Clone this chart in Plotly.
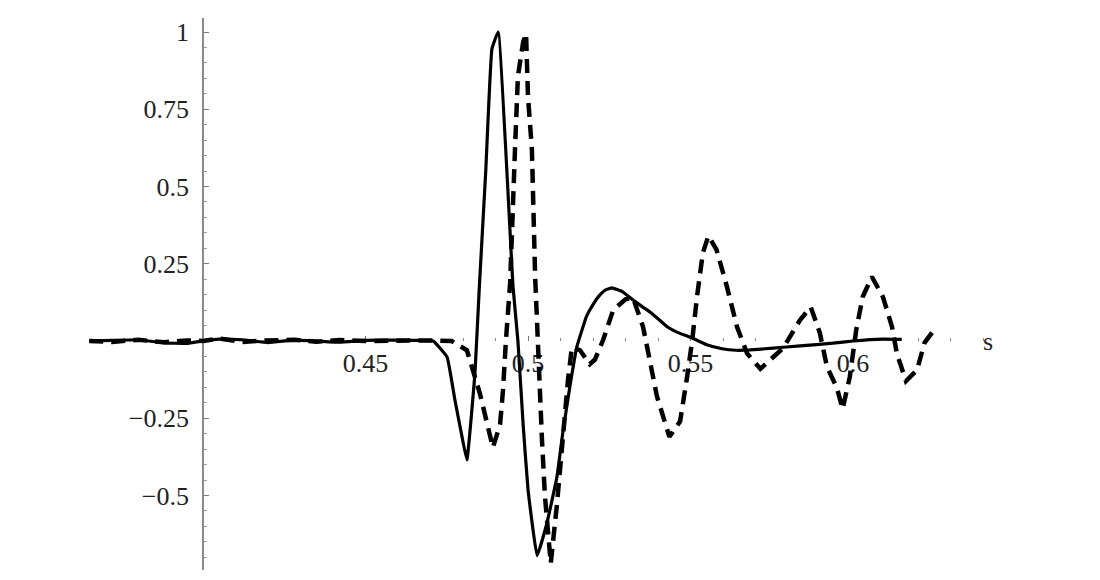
import plotly.graph_objects as go

# Solid curve (time s, amplitude)
solid_x = [0.365, 0.372, 0.380, 0.388, 0.395, 0.400, 0.405, 0.412, 0.420, 0.428, 0.435,
           0.442, 0.450, 0.458, 0.465, 0.4708, 0.4751, 0.4775, 0.4797, 0.4812, 0.4837,
           0.4850, 0.4870, 0.4889, 0.4908, 0.4954, 0.4969, 0.4985, 0.5000, 0.5028, 0.5058,
           0.5089, 0.5108, 0.5130, 0.5150, 0.5180, 0.5200, 0.5222, 0.5240, 0.5258, 0.5290,
           0.5323, 0.5350, 0.5375, 0.5400, 0.5428, 0.5460, 0.5505, 0.5550, 0.5597, 0.5640,
           0.5683, 0.5754, 0.5837, 0.5938, 0.6000, 0.6092, 0.6150]
solid_y = [0.0, 0.002, 0.004, -0.006, -0.008, 0.0, 0.006, 0.004, -0.005, 0.003, 0.0,
           -0.004, 0.002, 0.003, 0.002, 0.0, -0.052, -0.19, -0.31, -0.385, -0.10,
           0.17, 0.55, 0.945, 1.0, 0.175, 0.0, -0.27, -0.48, -0.695, -0.59,
           -0.44, -0.29, -0.14, -0.02, 0.08, 0.118, 0.150, 0.166, 0.172, 0.160,
           0.133, 0.112, 0.094, 0.072, 0.046, 0.028, 0.01, -0.012, -0.025, -0.030,
           -0.029, -0.023, -0.016, -0.007, 0.0, 0.006, 0.005]

# Dashed curve
dash_x = [0.365, 0.372, 0.380, 0.388, 0.395, 0.400, 0.405, 0.412, 0.420, 0.428, 0.435,
          0.442, 0.450, 0.458, 0.465, 0.470, 0.4765, 0.4812, 0.4852, 0.4874, 0.4892,
          0.4914, 0.4923, 0.4932, 0.4945, 0.4960, 0.4969, 0.4985, 0.4994, 0.5000, 0.5012,
          0.5022, 0.5031, 0.5043, 0.5052, 0.5070, 0.5089, 0.5108, 0.5123, 0.5135, 0.5160,
          0.5190, 0.5206, 0.5231, 0.5262, 0.5300, 0.5323, 0.5354, 0.5375, 0.5397, 0.5435,
          0.5468, 0.5489, 0.5505, 0.5520, 0.5538, 0.5555, 0.5580, 0.5612, 0.5643, 0.5674,
          0.5715, 0.5785, 0.5837, 0.5870, 0.5898, 0.5920, 0.5950, 0.5968, 0.5990, 0.6010,
          0.6030, 0.6058, 0.6092, 0.6120, 0.6135, 0.6163, 0.6197, 0.6220, 0.6245]
dash_y = [0.0, -0.003, 0.004, -0.004, 0.002, 0.0, 0.008, -0.003, 0.002, 0.004, -0.002,
          0.003, 0.0, 0.002, 0.004, 0.002, 0.0, -0.03, -0.17, -0.27, -0.345,
          -0.27, -0.16, 0.0, 0.188, 0.62, 0.857, 0.967, 0.995, 0.79, 0.62,
          0.208, -0.05, -0.32, -0.50, -0.72, -0.53, -0.30, -0.127, -0.02, -0.03,
          -0.075, -0.06, 0.003, 0.10, 0.135, 0.14, 0.046, -0.07, -0.18, -0.31,
          -0.26, -0.12, 0.0, 0.143, 0.285, 0.34, 0.296, 0.176, 0.046, -0.04,
          -0.09, -0.023, 0.068, 0.11, 0.026, -0.084, -0.15, -0.22, -0.117, 0.036,
          0.143, 0.208, 0.143, 0.046, -0.04, -0.13, -0.094, -0.006, 0.03]

x_tick_vals = [0.45, 0.5, 0.55, 0.6]
x_tick_text = ["0.45", "0.5", "0.55", "0.6"]
x_minor_vals = [0.41, 0.42, 0.43, 0.44, 0.46, 0.47, 0.48, 0.49, 0.51, 0.52, 0.53, 0.54,
                0.56, 0.57, 0.58, 0.59, 0.61, 0.62, 0.63, 0.64]
y_tick_vals = [-0.5, -0.25, 0.25, 0.5, 0.75, 1.0]
y_tick_text = ["\u22120.5", "\u22120.25", "0.25", "0.5", "0.75", "1"]

W, H = 1100, 580
OFF = 8                   # page body margin offset
x_axis_px = 203 - OFF     # pixel column of the vertical axis (x = 0.4)
px_per_x = 3250.0
zero_px = 341 - OFF       # pixel row of y = 0
px_per_y = 309.0
top, bottom = 18 - OFF, 10 + OFF

x_lo = 0.4 - x_axis_px / px_per_x
x_hi = 0.4 + (W - x_axis_px) / px_per_x
y_hi = (zero_px - top) / px_per_y
y_lo = (zero_px - (H - bottom)) / px_per_y

font = dict(family="Liberation Serif, Times New Roman, serif", size=26, color="#222222")

fig = go.Figure()
fig.add_trace(go.Scatter(x=dash_x, y=dash_y, mode="lines",
                         line=dict(color="black", width=4.5, dash="14px,8px"),
                         showlegend=False, hoverinfo="skip"))
fig.add_trace(go.Scatter(x=solid_x, y=solid_y, mode="lines",
                         line=dict(color="black", width=3.2, shape="spline", smoothing=0.3),
                         showlegend=False, hoverinfo="skip"))

fig.add_annotation(x=0.6415, y=0, text="s", showarrow=False,
                   font=font, xanchor="center", yanchor="middle")

fig.update_layout(
    width=W, height=H,
    margin=dict(l=0, r=0, t=top, b=bottom),
    paper_bgcolor="white", plot_bgcolor="white",
    showlegend=False,
    xaxis=dict(
        range=[x_lo, x_hi], showgrid=False, zeroline=False, showline=False,
        anchor="free", position=(0 - y_lo) / (y_hi - y_lo),
        tickmode="array", tickvals=x_tick_vals, ticktext=x_tick_text,
        ticks="inside", ticklen=5, tickwidth=1.2, tickcolor="#777777",
        tickfont=font, ticklabelstandoff=4,
        minor=dict(tickmode="array", tickvals=x_minor_vals, ticks="inside",
                   ticklen=3, tickwidth=1.2, tickcolor="#888888"),
        layer="below traces",
    ),
    yaxis=dict(
        range=[y_lo, y_hi], showgrid=False, zeroline=False,
        showline=True, linecolor="#8a8a8a", linewidth=1.6,
        anchor="free", position=x_axis_px / W, side="left",
        tickmode="array", tickvals=y_tick_vals, ticktext=y_tick_text,
        ticks="inside", ticklen=5, tickwidth=1.2, tickcolor="#777777",
        tickfont=font, ticklabelstandoff=8,
        minor=dict(tickmode="linear", tick0=0, dtick=0.05, ticks="inside",
                   ticklen=3, tickwidth=1, tickcolor="#999999"),
        layer="below traces",
    ),
)

fig.write_html("out.html")
